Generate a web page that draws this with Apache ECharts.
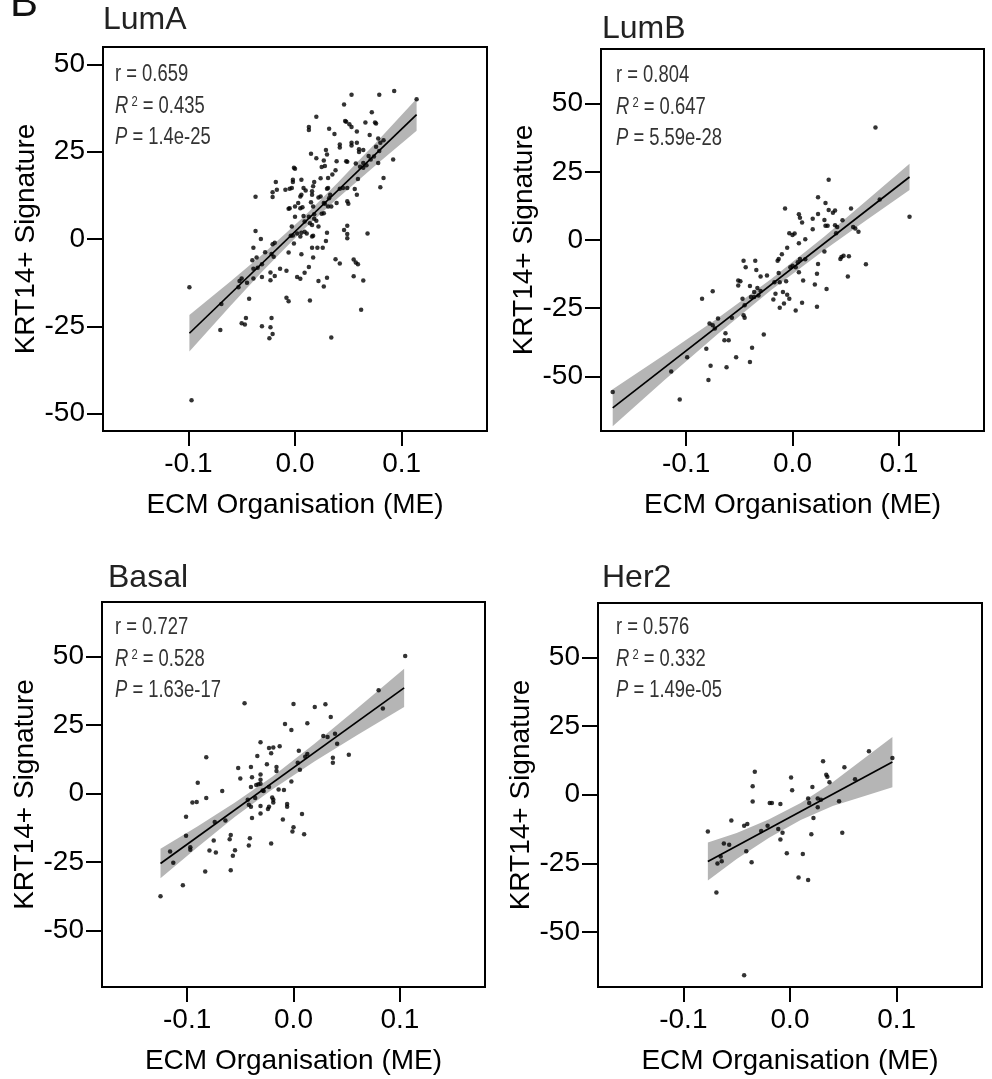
<!DOCTYPE html>
<html><head><meta charset="utf-8">
<script src="https://cdn.jsdelivr.net/npm/echarts@6/dist/echarts.min.js"></script>
<style>html,body{margin:0;padding:0;background:#fff}#c{width:992px;height:1079px}</style>
</head><body><div id="c"></div>
<script>
// ---------- data ----------
const panelNames = ['LumA', 'LumB', 'Basal', 'Her2'];
const statR  = ['0.659', '0.804', '0.727', '0.576'];
const statR2 = ['0.435', '0.647', '0.528', '0.332'];
const statP  = ['1.4e-25', '5.59e-28', '1.63e-17', '1.49e-05'];
const xTicks = [-0.1, 0, 0.1];
const yTicks = [-50, -25, 0, 25, 50];
const xRange = [-0.18, 0.18];
const yRanges = [[-55, 55], [-70, 70], [-70.5, 69.8], [-70, 69.8]];
const xName = 'ECM Organisation (ME)';
const yName = 'KRT14+ Signature';

const lumA = [
[0.053,41.3],[0.079,41.3],[0.093,42.4],[0.114,40.0],[0.046,38.5],[0.020,35.0],[0.072,36.3],[0.047,33.8],[0.048,33.6],[0.013,32.1],[0.013,31.2],[0.032,31.6],[0.051,32.9],[0.053,32.1],[0.066,33.4],[0.075,33.4],[0.076,33.1],[0.037,30.1],[0.058,30.8],[0.070,29.8],[0.042,27.1],[0.042,26.2],[0.053,27.6],[0.053,26.8],[0.058,27.6],[0.060,25.7],[0.060,24.9],[0.064,25.5],[0.078,28.8],[0.080,27.6],[0.083,28.3],[0.076,26.4],[0.029,25.5],[0.030,24.2],[0.015,24.4],[0.020,23.1],[0.027,22.5],[0.028,20.9],[0.039,22.3],[0.048,22.3],[0.049,22.1],[0.057,21.6],[0.064,21.8],[0.069,23.8],[0.074,23.6],[0.079,25.2],[0.078,21.8],[0.092,22.8],
[-0.001,20.4],[0.000,20.1],[0.025,20.6],[0.038,19.7],[0.035,18.5],[0.031,17.5],[0.024,17.4],[0.018,16.3],[0.017,15.1],[-0.002,17.0],[-0.002,16.3],[0.006,17.0],[0.008,14.6],[0.016,13.7],[0.016,12.7],[0.010,13.9],[0.006,12.7],[-0.018,16.3],[-0.021,13.4],[-0.021,12.0],[-0.017,14.1],[-0.009,14.1],[-0.005,14.4],[-0.003,14.6],[-0.037,12.1],[0.005,12.2],[0.015,10.5],[0.017,9.3],[0.022,11.9],[0.024,12.2],[0.030,14.4],[0.031,14.6],[0.033,12.7],[0.032,11.7],[0.042,14.4],[0.045,14.6],[0.049,14.6],[0.056,14.3],[0.058,12.7],[0.059,17.2],[0.061,20.7],[0.064,20.4],[0.067,21.1],[0.071,22.8],[0.080,14.8],[0.083,17.5],[0.049,10.8],[0.050,10.1],[0.027,10.3],[0.028,10.1],[0.031,9.3],[0.034,9.3],[0.003,10.3],[0.000,9.3],[0.005,8.8],[0.007,9.1],[-0.005,8.8],[-0.006,8.7],[0.027,7.4],[0.025,7.2],[0.039,10.3],
[0.000,6.4],[0.008,6.6],[0.013,6.4],[0.018,7.1],[0.018,5.8],[0.020,5.2],[0.009,5.0],[0.014,4.5],[0.016,4.0],[0.022,3.6],[0.009,2.1],[0.006,1.8],[0.005,0.7],[0.002,1.6],[-0.002,1.0],[-0.004,0.9],[-0.003,3.6],[0.011,1.6],[0.016,0.7],[0.017,0.9],[0.030,1.8],[0.029,-0.6],[0.049,3.8],[0.046,2.6],[0.049,1.4],[0.049,0.2],[0.068,1.6],[-0.037,2.3],[-0.032,0.0],[-0.039,-2.5],[-0.036,-5.3],[-0.040,-6.1],[-0.028,-3.8],[-0.021,-1.5],[-0.019,-1.1],[-0.022,-4.3],[-0.020,-5.1],[-0.031,-7.2],[-0.035,-8.2],[-0.039,-8.5],[-0.052,-12.0],[-0.050,-11.3],[-0.053,-13.8],[-0.045,-12.5],[-0.039,-11.3],[-0.031,-10.9],[-0.023,-9.6],[-0.023,-11.8],[-0.019,-10.6],[-0.014,-8.5],[-0.008,-9.1],[-0.006,-3.9],[-0.001,-1.3],[0.006,-4.4],[0.016,-2.5],[0.017,-5.3],[0.021,-2.5],[0.026,-2.5],[0.013,-8.0],[0.009,-9.7],[0.002,-10.9],[0.005,-11.4],[0.022,-12.0],[0.027,-13.6],[0.030,-11.1],[0.038,-5.8],[0.042,-7.0],[0.055,-5.9],[0.057,-6.7],[0.059,-7.2],[0.055,-10.7],[0.064,-11.9],[0.062,-20.3],[0.014,-17.6],[-0.008,-16.8],[-0.006,-17.8],[-0.043,-17.1],[-0.069,-18.6],[-0.070,-26.1],[-0.046,-22.6],[-0.050,-24.1],[-0.047,-24.5],[-0.031,-25.0],[-0.022,-22.6],[-0.023,-25.3],[-0.021,-27.2],[-0.024,-28.4],[0.034,-28.2],[-0.099,-13.8],[-0.097,-46.2]
];
const lumB = [
[0.078,41.2],[0.034,22.1],[0.082,14.8],[0.110,8.5],[0.024,15.7],[0.031,13.6],[0.034,11.0],[0.038,10.0],[0.040,10.8],[0.055,11.5],[-0.007,11.5],[0.006,9.4],[0.007,8.2],[0.009,6.4],[0.019,7.8],[0.024,9.5],[0.030,7.3],[0.031,5.2],[0.033,5.2],[0.040,5.4],[0.042,4.8],[0.047,7.2],[0.057,4.8],[0.059,4.2],[0.062,3.0],[-0.003,2.5],[0.000,1.8],[0.002,2.4],[0.006,-1.2],[0.012,0.3],[0.019,3.9],[0.041,2.5],[0.053,-6.0],[0.048,-5.8],[0.045,-7.0],[0.046,-6.2],[0.069,-8.9],[0.052,-13.4],[0.032,-18.0],[0.030,-4.2],[0.024,-8.8],[0.023,-12.4],[0.021,-16.3],[0.023,-24.5],[0.010,-14.8],[0.009,-23.0],[0.006,-11.8],[0.005,-8.2],[0.003,-10.0],[0.000,-9.4],[-0.002,-10.0],[0.007,-7.0],[0.012,-7.1],[-0.013,-7.0],[-0.014,-7.6],[-0.013,-12.1],[-0.010,-5.2],[-0.005,-2.8],[-0.017,-15.5],[-0.016,-19.7],[-0.012,-15.5],[-0.009,-19.1],[-0.006,-15.1],[-0.005,-20.1],[-0.003,-21.5],[-0.012,-24.8],[-0.008,-23.3],[-0.018,-21.8],[0.003,-25.8],[-0.046,-7.6],[-0.035,-7.6],[-0.044,-10.0],[-0.034,-11.0],[-0.030,-13.4],[-0.024,-13.0],[-0.051,-14.8],[-0.049,-15.1],[-0.051,-16.7],[-0.040,-16.9],[-0.033,-17.6],[-0.036,-19.1],[-0.039,-20.9],[-0.036,-20.9],[-0.032,-20.3],[-0.030,-18.7],[-0.047,-21.5],[-0.045,-23.9],[-0.046,-27.6],[-0.045,-28.5],[-0.057,-28.5],[-0.070,-28.8],[-0.075,-18.8],[-0.085,-21.5],[-0.078,-30.6],[-0.075,-31.2],[-0.073,-32.4],[-0.063,-34.2],[-0.064,-36.7],[-0.060,-36.7],[-0.081,-39.9],[-0.027,-34.6],[-0.038,-39.5],[-0.053,-43.0],[-0.077,-46.1],[-0.062,-46.6],[-0.040,-44.7],[-0.079,-51.3],[-0.099,-43.0],[-0.114,-48.2],[-0.106,-58.5],[-0.169,-55.7]
];
const basal = [
[0.105,50.1],[0.080,37.6],[0.084,31.0],[-0.046,32.9],[0.000,32.6],[0.020,31.5],[0.030,32.5],[-0.008,25.3],[-0.002,23.2],[0.013,25.6],[0.035,27.9],[0.028,21.0],[0.032,20.6],[0.039,21.8],[0.041,18.1],[0.052,14.1],[0.037,13.0],[0.037,11.2],[0.013,14.4],[0.011,13.4],[0.005,15.6],[-0.031,18.7],[-0.023,16.6],[-0.019,16.8],[-0.013,17.2],[-0.021,14.7],[-0.034,13.7],[-0.016,9.7],[-0.016,8.2],[-0.025,10.7],[-0.082,13.2],[-0.052,9.3],[-0.050,5.5],[-0.040,9.7],[-0.039,5.9],[-0.031,6.9],[-0.031,5.0],[-0.033,3.4],[-0.035,3.1],[-0.040,2.4],[-0.031,3.6],[-0.029,1.1],[-0.028,0.9],[-0.023,2.4],[-0.014,1.5],[-0.009,1.3],[-0.002,4.4],[0.004,11.2],[0.006,8.7],[-0.006,-3.8],[-0.006,-4.8],[-0.020,-1.4],[-0.019,-2.3],[-0.019,-3.3],[-0.023,-4.8],[-0.024,-5.6],[-0.031,-4.5],[-0.031,-7.3],[-0.039,-8.9],[-0.040,-4.8],[-0.042,-4.1],[-0.043,-2.3],[-0.036,-1.6],[-0.090,3.9],[-0.091,-3.1],[-0.095,-3.3],[-0.082,-1.6],[-0.067,0.9],[-0.101,-8.5],[-0.074,-10.4],[-0.064,-9.8],[-0.101,-15.4],[-0.097,-19.6],[-0.097,-20.5],[-0.116,-21.1],[-0.113,-25.2],[-0.104,-33.4],[-0.125,-37.4],[-0.083,-28.4],[-0.079,-20.8],[-0.075,-17.1],[-0.073,-21.5],[-0.060,-16.7],[-0.059,-15.1],[-0.059,-28.0],[-0.057,-22.7],[-0.055,-20.7],[-0.041,-16.3],[-0.042,-18.9],[-0.021,-18.2],[-0.010,-9.5],[-0.001,-13.8],[0.000,-12.3],[0.008,-7.5],[0.010,-14.8]
];
const her2 = [
[0.074,15.8],[0.096,13.4],[0.031,12.2],[-0.033,8.4],[0.034,7.3],[0.035,6.5],[0.051,10.0],[0.037,4.5],[0.001,6.3],[0.002,1.6],[-0.035,3.1],[0.061,5.6],[0.021,2.8],[0.017,-1.4],[0.018,-3.0],[0.026,-1.4],[0.029,-1.8],[0.026,-4.6],[0.046,-2.4],[-0.035,-2.5],[-0.019,-3.0],[-0.017,-3.0],[-0.009,-3.4],[0.022,-8.5],[0.020,-14.4],[-0.055,-9.4],[-0.040,-10.7],[-0.043,-11.3],[-0.021,-11.3],[-0.027,-13.2],[-0.011,-12.5],[-0.007,-13.8],[-0.009,-16.3],[-0.077,-13.4],[-0.062,-17.8],[-0.057,-18.2],[-0.041,-20.6],[-0.068,-25.0],[-0.064,-24.2],[-0.065,-22.5],[-0.036,-24.6],[-0.003,-21.3],[0.012,-21.6],[0.008,-30.1],[0.017,-31.0],[-0.069,-35.6],[0.049,-13.8],[-0.043,-65.7]
];

// fitted lines (end points)
const fitX = [[-0.099, 0.114], [-0.169, 0.110], [-0.125, 0.104], [-0.077, 0.096]];
const fitY = [[-27.0, 35.6], [-61.5, 23.1], [-25.5, 38.5], [-24.3, 11.9]];
// confidence bands
const bandX = [
  [-0.099, -0.06, -0.03, 0.008, 0.04, 0.08, 0.114],
  [-0.169, -0.12, -0.07, -0.02, 0.03, 0.07, 0.110],
  [-0.125, -0.09, -0.055, -0.02, 0.02, 0.06, 0.104],
  [-0.077, -0.05, -0.02, 0.01, 0.04, 0.07, 0.096]
];
const bandLo = [
  [-32.2, -19.0, -9.1, 2.7, 11.7, 22.3, 31.0],
  [-68.3, -51.2, -34.4, -18.3, -3.7, 7.4, 18.3],
  [-30.9, -19.5, -8.5, 1.5, 11.8, 21.3, 31.5],
  [-31.2, -23.4, -15.8, -9.2, -4.1, -0.5, 2.7]
];
const bandHi = [
  [-21.8, -12.0, -4.3, 6.3, 16.1, 28.9, 40.2],
  [-54.7, -42.0, -28.6, -14.3, 1.3, 14.6, 27.9],
  [-20.1, -11.9, -3.3, 6.1, 18.2, 31.1, 45.5],
  [-17.4, -13.9, -9.0, -3.0, 4.5, 13.4, 21.0]
];
const panelPoints = [lumA, lumB, basal, her2];

// ---------- layout ----------
const FONT = "'Liberation Sans', Arial, Helvetica, sans-serif";
const grids = [
  {left: 103, top: 47, width: 384, height: 384},
  {left: 601, top: 49, width: 383, height: 382},
  {left: 102, top: 602, width: 383, height: 385},
  {left: 598, top: 603, width: 384, height: 384}
];
const titlePos = [[103, 30], [602, 38.6], [108, 587.5], [602, 587.5]];
const statPos = [[115, 81.7], [616, 82.6], [115, 634.7], [616, 634.7]];
const LINE_GAP = 31.6;
const STAT_SIZE = 23;

const chart = echarts.init(document.getElementById('c'), null, {renderer: 'canvas'});

const gridOpts = [], xAxes = [], yAxes = [], series = [], graphics = [];

grids.forEach((g, i) => {
  gridOpts.push(Object.assign({show: true, borderColor: '#000', borderWidth: 2, backgroundColor: 'transparent', containLabel: false}, g));
  xAxes.push({
    gridIndex: i, type: 'value', min: xRange[0], max: xRange[1],
    axisLine: {show: true, onZero: false, lineStyle: {color: '#000', width: 2}},
    axisTick: {show: true, inside: false, length: 15, lineStyle: {color: '#000', width: 2}, customValues: xTicks},
    axisLabel: {customValues: xTicks, formatter: v => Number(v).toFixed(1), fontSize: 28, color: '#000', margin: 19, fontFamily: FONT},
    splitLine: {show: false},
    name: xName, nameLocation: 'middle', nameGap: 60,
    nameTextStyle: {fontSize: 28, color: '#000', fontFamily: FONT}
  });
  yAxes.push({
    gridIndex: i, type: 'value', min: yRanges[i][0], max: yRanges[i][1],
    axisLine: {show: true, onZero: false, lineStyle: {color: '#000', width: 2}},
    axisTick: {show: true, inside: false, length: 16, lineStyle: {color: '#000', width: 2}, customValues: yTicks},
    axisLabel: {customValues: yTicks, fontSize: 28, color: '#000', margin: 18, fontFamily: FONT},
    splitLine: {show: false},
    name: yName, nameLocation: 'middle', nameRotate: 90, nameGap: 60,
    nameTextStyle: {fontSize: 28, color: '#000', fontFamily: FONT}
  });
  const bx = bandX[i], lo = bandLo[i], hi = bandHi[i];
  series.push({
    type: 'custom', xAxisIndex: i, yAxisIndex: i, silent: true, z: 1,
    data: bx.map((x, k) => [x, lo[k], hi[k]]),
    encode: {x: 0, y: [1, 2]},
    renderItem: function (params, api) {
      if (params.dataIndex !== 0) return null;
      const pts = [];
      for (let k = 0; k < bx.length; k++) pts.push(api.coord([bx[k], hi[k]]));
      for (let k = bx.length - 1; k >= 0; k--) pts.push(api.coord([bx[k], lo[k]]));
      return {type: 'polygon', shape: {points: pts}, style: {fill: '#b5b5b5'}};
    }
  });
  series.push({
    type: 'line', xAxisIndex: i, yAxisIndex: i, silent: true, z: 3,
    data: fitX[i].map((x, k) => [x, fitY[i][k]]),
    showSymbol: false, lineStyle: {color: '#000', width: 1.7}
  });
  series.push({
    type: 'scatter', xAxisIndex: i, yAxisIndex: i, silent: true, z: 4,
    data: panelPoints[i], symbolSize: 4.5, itemStyle: {color: '#000'}
  });
  // panel title
  graphics.push({
    type: 'text', x: titlePos[i][0], y: titlePos[i][1] - 0.3 * 32,
    style: {text: panelNames[i], fontSize: 32, fontFamily: FONT, fill: '#222', verticalAlign: 'middle', align: 'left'}
  });
  // statistics (condensed text)
  const lines = ['r = ' + statR[i], '{it|R}{sup| 2} = ' + statR2[i], '{it|P} = ' + statP[i]];
  lines.forEach((t, k) => {
    graphics.push({
      type: 'text', x: statPos[i][0], y: statPos[i][1] + k * LINE_GAP - 0.3 * STAT_SIZE,
      scaleX: 0.8, scaleY: 1,
      style: {
        text: t, fontSize: STAT_SIZE, fontFamily: FONT, fill: '#333', verticalAlign: 'middle', align: 'left',
        rich: {it: {fontStyle: 'italic', fontSize: STAT_SIZE, fontFamily: FONT, fill: '#333'},
               sup: {fontSize: 14, fontFamily: FONT, fill: '#333', verticalAlign: 'top'}}
      }
    });
  });
});

graphics.push({
  type: 'text', x: 10, y: 17 - 0.3 * 42,
  style: {text: 'B', fontSize: 42, fontFamily: FONT, fill: '#111', verticalAlign: 'middle', align: 'left'}
});

chart.setOption({
  animation: false,
  backgroundColor: '#fff',
  grid: gridOpts, xAxis: xAxes, yAxis: yAxes, series: series, graphic: graphics
});
</script></body></html>
